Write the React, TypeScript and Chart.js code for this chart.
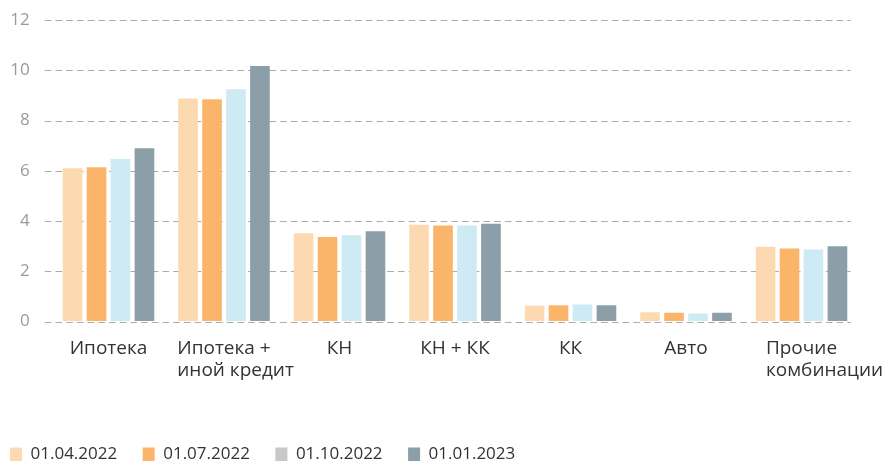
import React, { useEffect, useRef } from "react";
import { Chart, registerables } from "chart.js";

Chart.register(...registerables);

const FONT = "'Open Sans', 'Noto Sans', sans-serif";

const categories: string[][] = [
  ["Ипотека"],
  ["Ипотека +", "иной кредит"],
  ["КН"],
  ["КН + КК"],
  ["КК"],
  ["Авто"],
  ["Прочие", "комбинации"],
];

const seriesNames = ["01.04.2022", "01.07.2022", "01.10.2022", "01.01.2023"];

const apr2022 = [6.1, 8.88, 3.51, 3.85, 0.63, 0.37, 2.98];
const jul2022 = [6.14, 8.85, 3.36, 3.82, 0.65, 0.35, 2.91];
const oct2022 = [6.47, 9.24, 3.43, 3.82, 0.68, 0.32, 2.87];
const jan2023 = [6.9, 10.17, 3.59, 3.89, 0.65, 0.35, 3.0];

const yMin = 0;
const yMax = 12;
const yStep = 2;

const barColors = ["#fdd9b1", "#fbb56b", "#cdeaf5", "#8c9fa8"];
const legendColors = ["#fdd9b1", "#fbb56b", "#c8c8c8", "#8c9fa8"];

const GRID_LEFT_EXTEND = 6;
const GRID_RIGHT_INSET = 8.5;

const dashedGridPlugin = {
  id: "dashedGridPlugin",
  beforeDatasetsDraw(chart: any) {
    const { ctx, chartArea } = chart;
    const y = chart.scales.y;
    ctx.save();
    ctx.strokeStyle = "#ababab";
    ctx.lineWidth = 1;
    ctx.setLineDash([6.7, 4]);
    y.ticks.forEach((t: any) => {
      const py = Math.round(y.getPixelForValue(t.value)) + 0.5;
      ctx.beginPath();
      ctx.moveTo(chartArea.left - GRID_LEFT_EXTEND, py);
      ctx.lineTo(chartArea.right - GRID_RIGHT_INSET, py);
      ctx.stroke();
    });
    ctx.restore();
  },
};

const xLabelPlugin = {
  id: "xLabelPlugin",
  afterDraw(chart: any) {
    const { ctx } = chart;
    const x = chart.scales.x;
    ctx.save();
    ctx.font = `19px ${FONT}`;
    ctx.fillStyle = "#333333";
    ctx.textAlign = "left";
    ctx.textBaseline = "alphabetic";
    categories.forEach((lines, i) => {
      const cx = x.getPixelForValue(i);
      const left = cx - ctx.measureText(lines[0]).width / 2;
      lines.forEach((line, k) => {
        ctx.fillText(line, left, x.top + 32 + k * 22);
      });
    });
    ctx.restore();
  },
};

export default function App() {
  const ref = useRef<HTMLCanvasElement | null>(null);

  useEffect(() => {
    if (!ref.current) return;
    const allSeries = [apr2022, jul2022, oct2022, jan2023];
    const chart = new Chart(ref.current, {
      type: "bar",
      data: {
        labels: categories.map((c) => c.join(" ")),
        datasets: allSeries.map((data, i) => ({
          label: seriesNames[i],
          data,
          backgroundColor: barColors[i],
          borderWidth: 0,
          categoryPercentage: 0.83,
          barPercentage: 0.82,
        })),
      },
      options: {
        responsive: false,
        animation: false,
        layout: { padding: { left: -15.5, right: 25.75, top: 20, bottom: -12 } },
        plugins: {
          tooltip: { enabled: false },
          legend: {
            position: "bottom",
            align: "start",
            labels: {
              boxWidth: 12,
              boxHeight: 14,
              padding: 25.5,
              color: "#333333",
              font: { family: FONT, size: 17 },
              generateLabels(chart: any) {
                const items = Chart.defaults.plugins.legend.labels.generateLabels(chart);
                return items.map((it: any, i: number) => ({
                  ...it,
                  fillStyle: legendColors[i],
                  strokeStyle: legendColors[i],
                  lineWidth: 0,
                }));
              },
            },
          },
        },
        scales: {
          x: {
            grid: { display: false },
            border: { display: false },
            ticks: { display: false },
            afterFit(scale: any) {
              scale.height = 99;
            },
          },
          y: {
            min: yMin,
            max: yMax,
            border: { display: false },
            grid: {
              display: true,
              drawOnChartArea: false,
              drawTicks: true,
              tickLength: 21,
              color: "rgba(0,0,0,0)",
              tickColor: "rgba(0,0,0,0)",
            },
            ticks: {
              stepSize: yStep,
              padding: 0,
              color: "#9a9a9a",
              font: { family: FONT, size: 17 },
            },
            afterFit(scale: any) {
              scale.width = 66.25;
            },
          },
        },
      },
      plugins: [dashedGridPlugin, xLabelPlugin],
    });
    return () => chart.destroy();
  }, []);

  return (
    <div style={{ position: "absolute", left: 0, top: 0, width: 885, height: 461, background: "#fff" }}>
      <canvas ref={ref} width={885} height={461} />
    </div>
  );
}
